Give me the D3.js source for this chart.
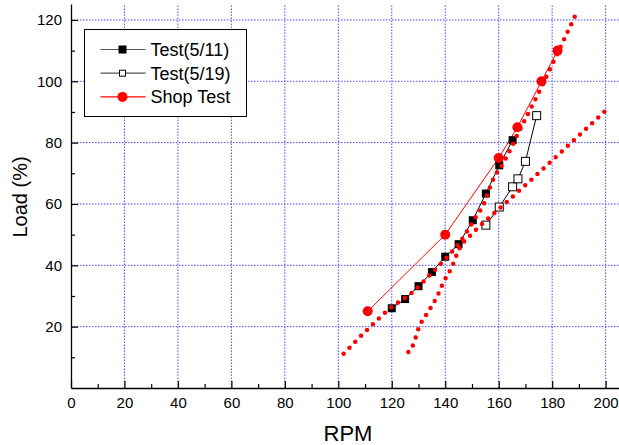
<!DOCTYPE html>
<html>
<head>
<meta charset="utf-8">
<script src="https://cdn.jsdelivr.net/npm/d3@7"></script>
<style>
  body { margin: 0; background: #fff; }
  text { font-family: Arial, "Liberation Sans", sans-serif; }
</style>
</head>
<body>
<script>
// -- data --
var test511Rpm  = [120, 125, 130, 135, 140, 145, 150.3, 155.2, 160.2, 165.2];
var test511Load = [26, 29, 33.2, 37.8, 42.8, 46.9, 54.7, 63.4, 72.6, 80.8];

var test519Rpm  = [155.2, 160.2, 165.2, 167.2, 170, 174.2];
var test519Load = [53.1, 59, 65.6, 68.2, 73.9, 88.8];

var shopRpm  = [111, 140, 160, 167, 176, 182];
var shopLoad = [25, 50, 75, 85, 100, 110];

// two red dotted limit curves
var limitARpm  = [102, 114, 120, 126, 136, 141, 145, 150.7, 154.4, 157.6, 162.5, 167.8, 175.7, 181.2, 189.6];
var limitALoad = [11.2, 21.7, 26.5, 30, 38.4, 43, 47, 54.7, 60, 67.4, 74.6, 84, 97.6, 107.7, 123.2];
var limitBRpm  = [126.2, 128.2, 130, 133.2, 136.9, 139.4, 142.6, 145, 149.4, 152.1, 163.7, 170.8, 180.5, 199.8];
var limitBLoad = [11.7, 14.5, 19.4, 24.3, 29.7, 34.6, 39.7, 45, 49.8, 52.1, 61.2, 66.8, 74.6, 90.3];

var xTicks = [0, 20, 40, 60, 80, 100, 120, 140, 160, 180, 200];
var yTicks = [20, 40, 60, 80, 100, 120];
var legendNames = ["Test(5/11)", "Test(5/19)", "Shop Test"];

function zip(a, b) { return a.map(function(v, i){ return [v, b[i]]; }); }

var width = 619, height = 445;
var svg = d3.select('body').append('svg')
  .attr('width', width)
  .attr('height', height);

var x = d3.scaleLinear().domain([0, 205]).range([71, 619]);
var y = d3.scaleLinear().domain([0, 125.2]).range([388, 4]);

// -- grid --
var grid = svg.append('g')
  .attr('stroke', '#4a4aff')
  .attr('stroke-width', 1)
  .attr('stroke-dasharray', '1.5,1.5');
grid.selectAll('line.v').data(xTicks.slice(1)).enter().append('line')
  .attr('x1', function(d){ return x(d); }).attr('x2', function(d){ return x(d); })
  .attr('y1', y(0)).attr('y2', y.range()[1]);
grid.selectAll('line.h').data(yTicks).enter().append('line')
  .attr('y1', function(d){ return y(d); }).attr('y2', function(d){ return y(d); })
  .attr('x1', x(0)).attr('x2', x.range()[1]);

// -- axes (ticks point inward) --
var xAxis = d3.axisBottom(x).tickValues(d3.range(0, 201, 10))
  .tickSizeInner(-4).tickSizeOuter(0)
  .tickFormat(function(d){ return d % 20 === 0 ? d : ''; });
var gx = svg.append('g').attr('transform', 'translate(0,' + y(0) + ')').call(xAxis);
gx.selectAll('.tick line').attr('y2', function(d){ return d % 20 === 0 ? -7 : -4; });
gx.selectAll('.tick text').attr('y', 9).attr('dy', '0.71em');

var yAxis = d3.axisLeft(y).tickValues(d3.range(10, 121, 10))
  .tickSizeInner(-4).tickSizeOuter(0)
  .tickFormat(function(d){ return d % 20 === 0 ? d : ''; });
var gy = svg.append('g').attr('transform', 'translate(' + x(0) + ',0)').call(yAxis);
gy.selectAll('.tick line').attr('x2', function(d){ return d % 20 === 0 ? 7 : 4; });
gy.selectAll('.tick text').attr('x', -9);

svg.selectAll('.domain').attr('stroke-width', 1.3);
svg.selectAll('.tick line').attr('stroke-width', 1.2);
svg.selectAll('.tick text').style('font-size', '15px').attr('fill', '#000');

svg.append('text')
  .attr('x', 348).attr('y', 441)
  .attr('text-anchor', 'middle')
  .style('font-size', '22px')
  .text('RPM');
svg.append('text')
  .attr('transform', 'translate(27,197) rotate(-90)')
  .attr('text-anchor', 'middle')
  .style('font-size', '20px')
  .text('Load (%)');

// -- series --
var line = d3.line().x(function(d){ return x(d[0]); }).y(function(d){ return y(d[1]); });

var d511 = zip(test511Rpm, test511Load);
var d519 = zip(test519Rpm, test519Load);
var dShop = zip(shopRpm, shopLoad);

svg.append('path').datum(d511).attr('d', line)
  .attr('fill', 'none').attr('stroke', '#000').attr('stroke-width', 1);
svg.append('path').datum(d519).attr('d', line)
  .attr('fill', 'none').attr('stroke', '#000').attr('stroke-width', 1);
svg.append('path').datum(dShop).attr('d', line)
  .attr('fill', 'none').attr('stroke', '#ff0000').attr('stroke-width', 1);

svg.selectAll('rect.s511').data(d511).enter().append('rect')
  .attr('x', function(d){ return x(d[0]) - 4; })
  .attr('y', function(d){ return y(d[1]) - 4; })
  .attr('width', 8).attr('height', 8)
  .attr('fill', '#000');
svg.selectAll('rect.s519').data(d519).enter().append('rect')
  .attr('x', function(d){ return x(d[0]) - 4; })
  .attr('y', function(d){ return y(d[1]) - 4; })
  .attr('width', 8).attr('height', 8)
  .attr('fill', '#fff').attr('stroke', '#000').attr('stroke-width', 1);
svg.selectAll('circle.shop').data(dShop).enter().append('circle')
  .attr('cx', function(d){ return x(d[0]); })
  .attr('cy', function(d){ return y(d[1]); })
  .attr('r', 5).attr('fill', '#ff0000');

// -- dotted limit curves --
var curve = d3.line().curve(d3.curveMonotoneX)
  .x(function(d){ return x(d[0]); }).y(function(d){ return y(d[1]); });
[zip(limitARpm, limitALoad), zip(limitBRpm, limitBLoad)].forEach(function(pts){
  svg.append('path').datum(pts).attr('d', curve)
    .attr('fill', 'none').attr('stroke', '#ff0000')
    .attr('stroke-width', 4.5)
    .attr('stroke-linecap', 'round')
    .attr('stroke-dasharray', '0,8.3');
});

// -- legend --
var leg = svg.append('g').attr('transform', 'translate(84.5,29.5)');
leg.append('rect').attr('width', 162).attr('height', 87)
  .attr('fill', '#fff').attr('stroke', '#000').attr('stroke-width', 1);
var rows = leg.selectAll('g.row').data(legendNames).enter().append('g')
  .attr('transform', function(d, i){ return 'translate(0,' + (20 + i * 23.7) + ')'; });
rows.append('line').attr('x1', 16).attr('x2', 61).attr('y1', 0).attr('y2', 0)
  .attr('stroke', function(d, i){ return i === 2 ? '#ff0000' : '#555'; })
  .attr('stroke-width', 1.2);
rows.each(function(d, i){
  var g = d3.select(this);
  if (i === 0) g.append('rect').attr('x', 34).attr('y', -4).attr('width', 8).attr('height', 8).attr('fill', '#000');
  if (i === 1) g.append('rect').attr('x', 35).attr('y', -3).attr('width', 6).attr('height', 6)
    .attr('fill', '#fff').attr('stroke', '#000');
  if (i === 2) g.append('circle').attr('cx', 38).attr('cy', 0).attr('r', 5).attr('fill', '#ff0000');
});
rows.append('text').attr('x', 66).attr('y', 0).attr('dy', '0.36em')
  .style('font-size', '18px')
  .text(function(d){ return d; });
</script>
</body>
</html>
